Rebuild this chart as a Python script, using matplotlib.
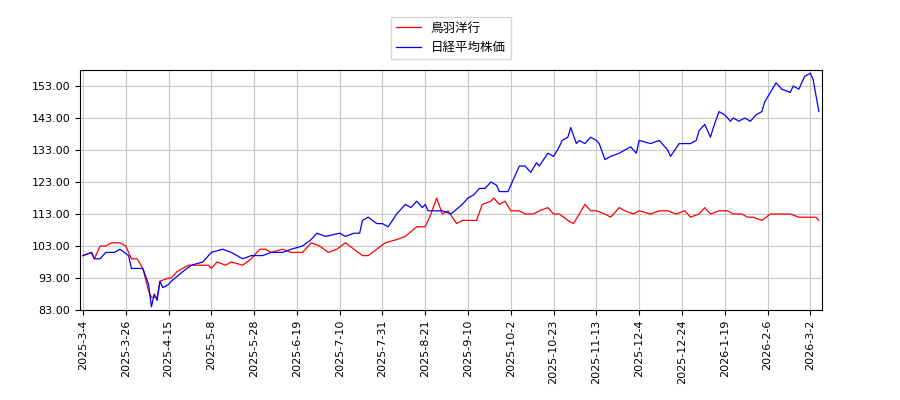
import matplotlib.pyplot as plt

plt.rcParams['font.family'] = ['Noto Sans CJK JP', 'DejaVu Sans']

tick_labels = ['2025-3-4', '2025-3-26', '2025-4-15', '2025-5-8', '2025-5-28', '2025-6-19',
               '2025-7-10', '2025-7-31', '2025-8-21', '2025-9-10', '2025-10-2', '2025-10-23',
               '2025-11-13', '2025-12-4', '2025-12-24', '2026-1-19', '2026-2-6', '2026-3-2']

# trading-day index, value (start = 100)
toba_idx = [0, 3, 4, 6, 8, 10, 13, 15, 17, 19, 21, 23, 24, 26, 27, 30, 31, 33, 37, 40, 44, 45, 47,
            50, 52, 56, 59, 62, 64, 66, 70, 73, 77, 80, 83, 86, 89, 92, 95, 98, 100, 103, 106, 110,
            113, 117, 120, 122, 124, 126, 128, 131, 133, 136, 138, 140, 143, 144, 146, 148, 150,
            153, 155, 158, 160, 163, 165, 167, 170, 172, 174, 176, 178, 180, 183, 185, 188, 190,
            193, 195, 199, 202, 205, 208, 211, 213, 216, 218, 220, 223, 226, 228, 231, 233, 235,
            238, 241, 244, 248, 251, 255, 257, 258]
toba_val = [100, 101, 99, 103, 103, 104, 104, 103, 99, 99, 96, 89, 87, 87, 92, 93, 93, 95, 97, 97,
            97, 96, 98, 97, 98, 97, 99, 102, 102, 101, 102, 101, 101, 104, 103, 101, 102, 104, 102,
            100, 100, 102, 104, 105, 106, 109, 109, 113, 118, 113, 114, 110, 111, 111, 111, 116,
            117, 118, 116, 117, 114, 114, 113, 113, 114, 115, 113, 113, 111, 110, 113, 116, 114,
            114, 113, 112, 115, 114, 113, 114, 113, 114, 114, 113, 114, 112, 113, 115, 113, 114,
            114, 113, 113, 112, 112, 111, 113, 113, 113, 112, 112, 112, 111]

nikkei_idx = [0, 3, 4, 6, 8, 11, 13, 16, 17, 21, 23, 24, 25, 26, 27, 28, 30, 31, 35, 38, 42, 45,
              49, 52, 56, 59, 63, 66, 70, 73, 77, 80, 82, 85, 90, 92, 95, 97, 98, 100, 103, 105,
              107, 110, 112, 113, 115, 117, 119, 120, 121, 123, 126, 129, 133, 135, 137, 139, 141,
              143, 145, 146, 149, 150, 153, 155, 157, 159, 160, 163, 165, 167, 168, 170, 171, 173,
              174, 176, 178, 180, 181, 183, 185, 188, 192, 194, 195, 199, 202, 205, 206, 209, 213,
              215, 216, 218, 220, 221, 223, 225, 227, 228, 230, 232, 234, 236, 238, 239, 241, 243,
              245, 248, 249, 251, 253, 255, 256, 257, 258]
nikkei_val = [100, 101, 99, 99, 101, 101, 102, 100, 96, 96, 91, 84, 88, 86, 92, 90, 91, 92, 95, 97,
              98, 101, 102, 101, 99, 100, 100, 101, 101, 102, 103, 105, 107, 106, 107, 106, 107,
              107, 111, 112, 110, 110, 109, 113, 115, 116, 115, 117, 115, 116, 114, 114, 114, 113,
              116, 118, 119, 121, 121, 123, 122, 120, 120, 122, 128, 128, 126, 129, 128, 132, 131,
              134, 136, 137, 140, 135, 136, 135, 137, 136, 135, 130, 131, 132, 134, 132, 136, 135,
              136, 133, 131, 135, 135, 136, 139, 141, 137, 140, 145, 144, 142, 143, 142, 143, 142,
              144, 145, 148, 151, 154, 152, 151, 153, 152, 156, 157, 155, 150, 145]

fig = plt.figure(figsize=(9, 4), dpi=100)
ax = fig.add_axes([0.089, 0.225, 0.824, 0.6])
ax.plot(toba_idx, toba_val, color='red', lw=0.9, label='鳥羽洋行')
ax.plot(nikkei_idx, nikkei_val, color='blue', lw=0.9, label='日経平均株価')

ax.set_xlim(-1, 259)
ax.set_ylim(83, 158)
ax.set_xticks(range(0, 15 * len(tick_labels), 15))
ax.set_xticklabels(tick_labels, rotation=90, fontsize=8, family='DejaVu Sans')
ax.set_yticks(range(83, 154, 10))
ax.set_yticklabels(['%.2f' % v for v in range(83, 154, 10)], fontsize=8, family='DejaVu Sans')
ax.grid(True, color='#c8c8c8', lw=0.8)
ax.legend(loc='lower center', bbox_to_anchor=(0.5, 1.02), fontsize=9, fancybox=False)

fig.savefig('out.png')
